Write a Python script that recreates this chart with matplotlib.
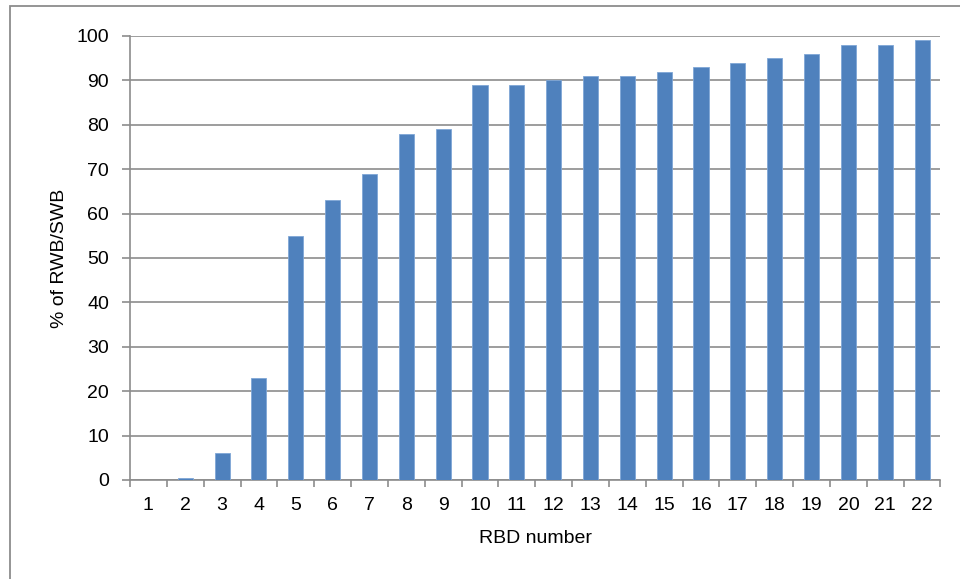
import numpy as np
import matplotlib as mpl
import matplotlib.pyplot as plt
import matplotlib.patches as patches

# data
rbd = [str(i) for i in range(1, 23)]
pct = [0, 0.4, 6, 23, 55, 63, 69, 78, 79, 89, 89, 90,
       91, 91, 92, 93, 94, 95, 96, 98, 98, 99]
yticks = list(range(0, 101, 10))

mpl.rcParams['font.family'] = ['Liberation Sans', 'DejaVu Sans']

W, H = 960, 579
f = plt.figure(figsize=(W / 100, H / 100), dpi=100)

# outer chart frame (only left/top are visible in the picture)
f.patches.append(patches.Rectangle((10 / W, -0.1), 2.0, 1 - 6 / H + 0.1,
                                   transform=f.transFigure, fill=False,
                                   edgecolor='#8c8c8c', linewidth=1.3))

ax = f.add_axes([130 / W, 1 - 480 / H, (940.5 - 130) / W, (480 - 36) / H])

x = np.arange(len(rbd))
ax.bar(x, pct, width=0.41, color='#4f81bd', edgecolor='#7fa6d6',
       linewidth=0.6, zorder=3)

ax.set_xlim(-0.5, len(rbd) - 0.5)
ax.set_ylim(0, 100)
ax.set_yticks(yticks)
ax.yaxis.grid(True, color='#8c8c8c', linewidth=1.2, zorder=0)

# ticks between categories on x
ax.set_xticks(np.arange(-0.5, len(rbd), 1.0))
ax.set_xticklabels([])
ax.set_xticks(x, minor=True)
ax.set_xticklabels(rbd, minor=True)
ax.tick_params(axis='x', which='major', length=5, color='#8c8c8c', width=1.2)
ax.tick_params(axis='x', which='minor', length=0, labelsize=14, pad=12)
ax.tick_params(axis='y', length=6, color='#8c8c8c', width=1.2,
               labelsize=14, pad=9)

for s in ['top', 'right']:
    ax.spines[s].set_visible(False)
for s in ['left', 'bottom']:
    ax.spines[s].set_color('#8c8c8c')
    ax.spines[s].set_linewidth(1.2)

ax.set_xlabel('RBD number', fontsize=14, labelpad=12)
ax.set_ylabel('% of RWB/SWB', fontsize=14, labelpad=6)

plt.savefig('out.png', dpi=100)
